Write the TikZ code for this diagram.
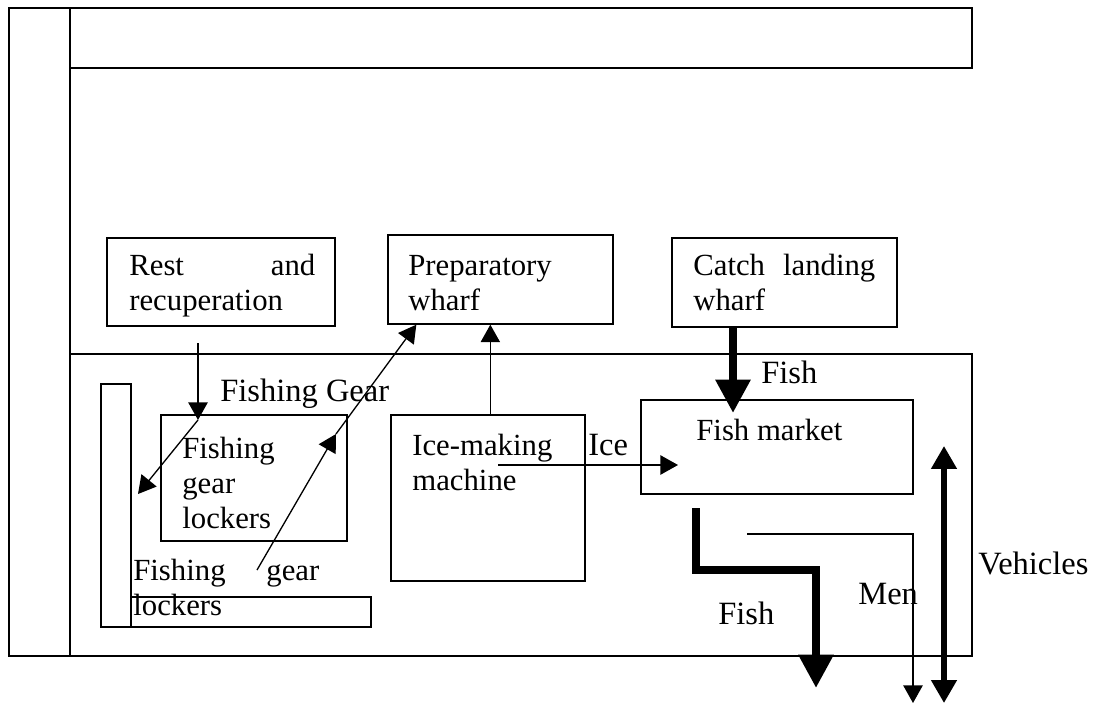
\documentclass[tikz,border=0pt]{standalone}
\usepackage{fontspec}
\setmainfont{Liberation Serif}
\usetikzlibrary{arrows.meta,fit,calc}

\newcommand{\spreadgap}{\hskip 0pt plus 1fill\relax}

\begin{document}
\begin{tikzpicture}[x=0.02cm, y=-0.02cm,
    box/.style={draw, line width=0.75pt, inner sep=0pt},
    txt/.style={anchor=base west, inner sep=0pt, align=left, font=\fontsize{17.5}{20}\selectfont},
    lbl/.style={anchor=base west, inner sep=0pt, font=\fontsize{18.5}{20}\selectfont},
    thin/.style={line width=0.75pt, -{Triangle[length=10pt,width=11pt]}},
    thick/.style={line width=4.5pt, line join=miter, -{Triangle[length=19pt,width=19pt]}},
    twoway/.style={line width=3pt, {Triangle[length=13pt,width=14pt]}-{Triangle[length=13pt,width=14pt]}}]

    \useasboundingbox (0,0) rectangle (1095,706);

    % Site outline
    \draw[line width=0.75pt] (70,68) -- (972,68) -- (972,8) -- (9,8) -- (9,656) -- (70,656);
    \draw[line width=0.75pt] (70,8) -- (70,656);
    \node[box, fit={(70,354) (972,656)}] (quay) {};

    % Nodes
    \node[box, fit={(107,238) (335,326)}] (rest) {};
    \node[box, fit={(388,235) (613,324)}] (prep) {};
    \node[box, fit={(672,238) (897,327)}] (catch) {};
    \node[box, fit={(101,384) (131,627)}] (strip) {};
    \node[box, fit={(131,597) (371,627)}] (shelf) {};
    \node[box, fit={(161,415) (347,541)}] (lockers) {};
    \node[box, fit={(391,415) (585,581)}] (icemaker) {};
    \node[box, fit={(641,400) (913,494)}] (market) {};

    \node[txt, text width=3.72cm] at (129,275) (resttxt) {Rest\spreadgap and\\recuperation};
    \node[txt, text width=4cm] at (408,275) (preptxt) {Preparatory\\wharf};
    \node[txt, text width=3.64cm] at (693,275) (catchtxt) {Catch\spreadgap landing\\wharf};
    \node[txt, text width=3.2cm] at (182,458) (lockerstxt) {Fishing\\gear\\lockers};
    \node[txt, text width=3.5cm] at (412,455) (icetxt) {Ice-making\\machine};
    \node[txt] at (696,440) (markettxt) {Fish market};
    \node[txt, text width=3.72cm] at (133,580) (shelftxt) {Fishing\spreadgap gear\\lockers};

    % Flow labels
    \node[lbl] at (220,401) (gearlbl) {Fishing Gear};
    \node[lbl] at (761,383) (fishinlbl) {Fish};
    \node[lbl] at (588,455) (icelbl) {Ice};
    \node[lbl] at (858,604) (menlbl) {Men};
    \node[lbl] at (978,574) (vehlbl) {Vehicles};
    \node[lbl] at (718,624) (fishoutlbl) {Fish};

    % Free ends
    \coordinate (r1) at (198,343);
    \coordinate (r2) at (198,420);
    \coordinate (r3) at (138,494);
    \coordinate (g1) at (257,570);
    \coordinate (g2) at (336,434);
    \coordinate (ice1) at (498,465);
    \coordinate (ice2) at (678,465);
    \coordinate (fishin) at (733,413);
    \coordinate (f1) at (696,508);
    \coordinate (f2) at (696,570);
    \coordinate (f3) at (816,570);
    \coordinate (f4) at (816,688);
    \coordinate (m1) at (747,534);
    \coordinate (m2) at (913,534);
    \coordinate (m3) at (913,703);
    \coordinate (v1) at (944,446);
    \coordinate (v2) at (944,703);

    % Flows
    \draw[thin] (r1) -- (r2);
    \draw[thin] (r2) -- (r3);
    \draw[thin] (g1) -- (g2);
    \draw[thin] (g2) -- ($(prep.south west)+(29,0)$);
    \draw[thin] ($(icemaker.north west)+(100,0)$) -- ($(prep.south west)+(103,0)$);
    \draw[thin] (ice1) -- (ice2);
    \draw[thick] (catch.south west -| fishin) -- (fishin);
    \draw[thick] (f1) -- (f2) -- (f3) -- (f4);
    \draw[thin] (m1) -- (m2) -- (m3);
    \draw[twoway] (v1) -- (v2);
\end{tikzpicture}
\end{document}
